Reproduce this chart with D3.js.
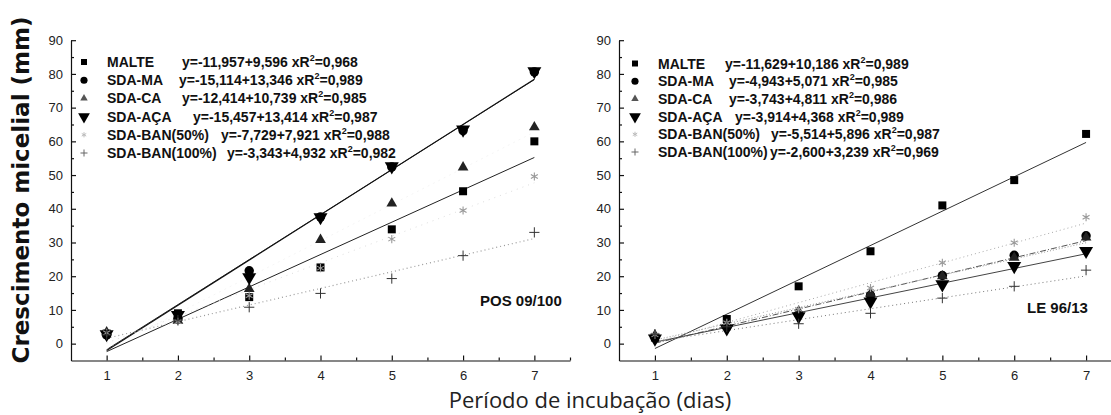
<!DOCTYPE html>
<html>
<head>
<meta charset="utf-8">
<script src="https://cdn.jsdelivr.net/npm/d3@7"></script>
<style>
body { margin: 0; background: #fff; }
</style>
</head>
<body>
<svg id="chart"></svg>
<script>
// days of incubation
const days = [1, 2, 3, 4, 5, 6, 7]
const seriesNames = ['MALTE', 'SDA-MA', 'SDA-CA', 'SDA-AÇA', 'SDA-BAN(50%)', 'SDA-BAN(100%)']
const yTicks = [0, 10, 20, 30, 40, 50, 60, 70, 80, 90]

// POS 09/100 - measured growth (mm)
const posMalte = [3.0, 9.0, 13.8, 22.6, 33.9, 45.2, 60.0]
const posSdaMa = [2.6, 7.5, 21.6, 37.6, 52.4, 63.2, 80.6]
const posSdaCa = [3.4, 6.8, 16.2, 30.8, 41.6, 52.3, 64.2]
const posSdaAca = [2.8, 8.5, 19.7, 37.5, 52.6, 63.5, 80.8]
const posBan50 = [3.2, 6.5, 14.2, 22.4, 31.0, 39.5, 49.6]
const posBan100 = [2.6, 7.0, 10.8, 14.9, 19.3, 26.1, 33.0]
// POS 09/100 - fitted lines y = a + b x
const posIntercept = [-11.957, -15.114, -12.414, -15.457, -7.729, -3.343]
const posSlope = [9.596, 13.346, 10.739, 13.414, 7.921, 4.932]
const posR2 = [0.968, 0.989, 0.985, 0.987, 0.988, 0.982]

// LE 96/13 - measured growth (mm)
const leMalte = [1.8, 7.3, 17.0, 27.4, 41.0, 48.5, 62.2]
const leSdaMa = [1.8, 5.0, 8.7, 14.3, 20.2, 26.2, 32.0]
const leSdaCa = [2.5, 5.6, 9.6, 14.8, 20.0, 25.5, 31.5]
const leSdaAca = [1.5, 4.5, 8.1, 12.5, 17.6, 23.0, 27.5]
const leBan50 = [2.6, 6.2, 10.2, 16.5, 24.0, 29.9, 37.5]
const leBan100 = [2.8, 5.0, 5.9, 9.0, 13.5, 17.0, 21.8]
// LE 96/13 - fitted lines
const leIntercept = [-11.629, -4.943, -3.743, -3.914, -5.514, -2.600]
const leSlope = [10.186, 5.071, 4.811, 4.368, 5.896, 3.239]
const leR2 = [0.989, 0.985, 0.986, 0.989, 0.987, 0.969]

let width = 1111
let height = 415

const svg = d3.select('#chart')
    .attr('width', width)
    .attr('height', height)

// marker look per series
const markers = [
    { type: d3.symbolSquare, size: 64, fill: '#000', stroke: 'none', rot: 0, sw: 0 },
    { type: d3.symbolCircle, size: 70, fill: '#000', stroke: 'none', rot: 0, sw: 0 },
    { type: d3.symbolTriangle, size: 50, fill: '#222', stroke: 'none', rot: 0, sw: 0 },
    { type: d3.symbolTriangle, size: 85, fill: '#000', stroke: 'none', rot: 180, sw: 0 },
    { type: d3.symbolAsterisk, size: 45, fill: 'none', stroke: '#999', rot: 0, sw: 1.1 },
    { type: d3.symbolPlus, size: 36, fill: 'none', stroke: '#333', rot: 0, sw: 1 }
]
const legendMarkers = [
    { type: d3.symbolSquare, size: 36 },
    { type: d3.symbolCircle, size: 40 },
    { type: d3.symbolTriangle, size: 24 },
    { type: d3.symbolTriangle, size: 60 },
    { type: d3.symbolAsterisk, size: 18 },
    { type: d3.symbolPlus, size: 18 }
]

const fmt = v => v.toFixed(3).replace('.', ',')

const panels = [
    {
        name: 'POS 09/100',
        values: [posMalte, posSdaMa, posSdaCa, posSdaAca, posBan50, posBan100],
        intercept: posIntercept, slope: posSlope, r2: posR2,
        xRange: [71, 570],
        labelPos: [480, 306],
        legendX: 84, legendTextX: 107, legendY: 62, legendStep: 18.2,
        eqX: [182, 179, 182, 193, 221, 227],
        lines: [
            { color: '#222', w: 1, dash: null },
            { color: '#333', w: 1, dash: null },
            { color: '#f2f2f2', w: 0.8, dash: '2,4' },
            { color: '#111', w: 1.1, dash: null },
            { color: '#dedede', w: 1, dash: '1,5' },
            { color: '#999', w: 1.2, dash: '1,3' }
        ]
    },
    {
        name: 'LE 96/13',
        values: [leMalte, leSdaMa, leSdaCa, leSdaAca, leBan50, leBan100],
        intercept: leIntercept, slope: leSlope, r2: leR2,
        xRange: [619, 1122],
        labelPos: [1027, 313],
        legendX: 635, legendTextX: 658, legendY: 63.5, legendStep: 17.7,
        eqX: [725, 729, 729, 735, 771, 770],
        lines: [
            { color: '#333', w: 1, dash: null },
            { color: '#555', w: 1, dash: '6,2,1,2' },
            { color: '#999', w: 1, dash: '1,2' },
            { color: '#444', w: 1, dash: null },
            { color: '#aaa', w: 1, dash: '1,3' },
            { color: '#777', w: 1, dash: '1,3' }
        ]
    }
]

const yScale = d3.scaleLinear()
    .domain([-5, 90])
    .range([360.5, 40.2])

panels.forEach(p => {
    const xScale = d3.scaleLinear()
        .domain([0.5, 7.5])
        .range(p.xRange)

    // minor ticks
    svg.append('g')
        .attr('transform', 'translate(' + p.xRange[0] + ', 0)')
        .call(d3.axisLeft(yScale).tickValues(d3.range(5, 90, 10)).tickSize(-3).tickFormat(''))
        .call(g => g.select('.domain').remove())
    svg.append('g')
        .attr('transform', 'translate(0, ' + yScale(-5) + ')')
        .call(d3.axisBottom(xScale).tickValues(d3.range(1.5, 7.6, 1)).tickSize(-3).tickFormat(''))
        .call(g => g.select('.domain').remove())

    let yAxis = d3.axisLeft(yScale).tickValues(yTicks).tickSize(-5).tickPadding(8).tickSizeOuter(0)
    let xAxis = d3.axisBottom(xScale).tickValues(days).tickFormat(d3.format('d')).tickSize(-5).tickPadding(10).tickSizeOuter(0)

    svg.append('g')
        .attr('class', 'y-axis')
        .attr('transform', 'translate(' + p.xRange[0] + ', 0)')
        .call(yAxis)
    svg.append('g')
        .attr('class', 'x-axis')
        .attr('transform', 'translate(0, ' + yScale(-5) + ')')
        .call(xAxis)

    // regression lines
    p.values.forEach((vals, i) => {
        const st = p.lines[i]
        const ends = [days[0], days[days.length - 1]].map(d => [d, p.intercept[i] + p.slope[i] * d])
        svg.append('path')
            .attr('d', d3.line().x(d => xScale(d[0])).y(d => yScale(d[1]))(ends))
            .attr('fill', 'none')
            .attr('stroke', st.color)
            .attr('stroke-width', st.w)
            .attr('stroke-dasharray', st.dash)
    })

    // points
    p.values.forEach((vals, i) => {
        const m = markers[i]
        svg.append('g')
            .selectAll('path')
            .data(vals)
            .enter()
            .append('path')
            .attr('d', d3.symbol().type(m.type).size(m.size))
            .attr('transform', (v, j) => 'translate(' + xScale(days[j]) + ',' + yScale(v) + ') rotate(' + m.rot + ')')
            .attr('fill', m.fill)
            .attr('stroke', m.stroke)
            .attr('stroke-width', m.sw)
    })

    // legend
    seriesNames.forEach((name, i) => {
        const cy = p.legendY + i * p.legendStep
        const lm = legendMarkers[i]
        const m = markers[i]
        svg.append('path')
            .attr('d', d3.symbol().type(lm.type).size(lm.size))
            .attr('transform', 'translate(' + p.legendX + ',' + cy + ') rotate(' + m.rot + ')')
            .attr('fill', i == 2 ? '#555' : m.fill)
            .attr('stroke', i == 4 ? '#bbb' : (i == 5 ? '#666' : 'none'))
            .attr('stroke-width', 1)

        svg.append('text')
            .attr('class', 'legend')
            .attr('x', p.legendTextX)
            .attr('y', cy + 5)
            .text(name)

        const eq = svg.append('text')
            .attr('class', 'legend')
            .attr('x', p.eqX[i])
            .attr('y', cy + 5)
        eq.append('tspan').text('y=' + fmt(p.intercept[i]) + '+' + fmt(p.slope[i]) + ' xR')
        eq.append('tspan').attr('dy', -6).attr('font-size', 9).text('2')
        eq.append('tspan').attr('dy', 6).text('=' + fmt(p.r2[i]))
    })

    svg.append('text')
        .attr('class', 'panel-label')
        .attr('x', p.labelPos[0])
        .attr('y', p.labelPos[1])
        .text(p.name)
})

svg.selectAll('.domain, .tick line')
    .attr('stroke', '#111')
    .attr('stroke-width', 1.2)
svg.selectAll('.tick text')
    .attr('font-family', 'Liberation Sans, Arial, sans-serif')
    .attr('font-size', 13)
    .attr('fill', '#222')

svg.selectAll('.legend')
    .attr('font-family', 'Liberation Sans, Arial, sans-serif')
    .attr('font-weight', 'bold')
    .attr('font-size', 14)
    .attr('fill', '#111')

svg.selectAll('.panel-label')
    .attr('font-family', 'Liberation Sans, Arial, sans-serif')
    .attr('font-weight', 'bold')
    .attr('font-size', 15)
    .attr('fill', '#111')

// axis titles
svg.append('text')
    .attr('transform', 'translate(29, 190) rotate(-90)')
    .attr('text-anchor', 'middle')
    .attr('font-family', 'DejaVu Sans, sans-serif')
    .attr('font-weight', 'bold')
    .attr('font-size', 23)
    .attr('fill', '#111')
    .text('Crescimento micelial (mm)')

svg.append('text')
    .attr('x', 590)
    .attr('y', 408)
    .attr('text-anchor', 'middle')
    .attr('font-family', 'Open Sans, sans-serif')
    .attr('font-size', 22)
    .attr('fill', '#222')
    .text('Período de incubação (dias)')
</script>
</body>
</html>
